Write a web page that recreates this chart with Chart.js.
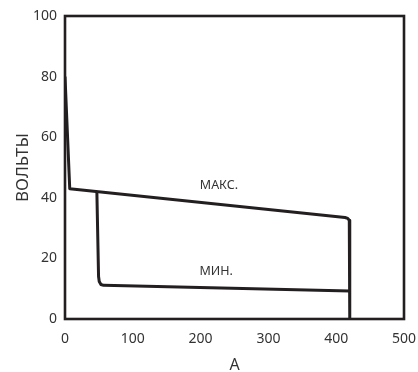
<!DOCTYPE html>
<html>
<head>
<meta charset="utf-8">
<script src="https://cdn.jsdelivr.net/npm/chart.js@4"></script>
<style>
  html, body { margin: 0; padding: 0; background: #fff; }
  #wrap { width: 418px; height: 372px; }
</style>
</head>
<body>
<div id="wrap"><canvas id="chart" width="418" height="372"></canvas></div>
<script>
"use strict";

// values (A, volts)
var maxAmps = [0, 7, 413, 417, 419.3, 420, 420];
var maxVolts = [80, 43, 33.5, 33.2, 32.6, 31.5, 0];
var minAmps = [47, 49.5, 50.5, 53, 57, 420];
var minVolts = [42, 14, 12.4, 11.4, 11.1, 9.2];

var xTicks = [0, 100, 200, 300, 400, 500];
var yTicks = [0, 20, 40, 60, 80, 100];

var labelMax = { text: "МАКС.", x: 227, y: 44.2 };
var labelMin = { text: "МИН.", x: 223, y: 15.8 };

var ink = "#231f20";
var textInk = "#333";

function toPoints(xs, ys) {
    var pts = [];
    for (var i = 0; i < xs.length; i++) {
        pts.push({ x: xs[i], y: ys[i] });
    }
    return pts;
}

/* draws the box round the plot and the two curve names */
var framePlugin = {
    id: "frame",
    afterDatasetsDraw: function(chart) {
        var ctx = chart.ctx;
        var a = chart.chartArea;
        ctx.save();
        ctx.strokeStyle = ink;
        ctx.lineWidth = 2.6;
        ctx.strokeRect(a.left, a.top, a.right - a.left, a.bottom - a.top);

        ctx.fillStyle = textInk;
        ctx.font = "12.5px 'Noto Sans'";
        ctx.textAlign = "center";
        ctx.textBaseline = "middle";
        [labelMax, labelMin].forEach(function(l) {
            ctx.fillText(l.text, chart.scales.x.getPixelForValue(l.x), chart.scales.y.getPixelForValue(l.y));
        });
        ctx.restore();
    }
};

new Chart(document.getElementById("chart"), {
    type: "scatter",
    data: {
        datasets: [{
            data: toPoints(maxAmps, maxVolts),
            showLine: true,
            borderColor: ink,
            borderWidth: 3,
            borderJoinStyle: "round",
            pointRadius: 0
        }, {
            data: toPoints(minAmps, minVolts),
            showLine: true,
            borderColor: ink,
            borderWidth: 3,
            borderJoinStyle: "round",
            pointRadius: 0
        }]
    },
    options: {
        responsive: false,
        animation: false,
        layout: {
            padding: { top: 16, right: 14, left: 0, bottom: 0 }
        },
        scales: {
            x: {
                type: "linear",
                min: 0,
                max: 500,
                afterBuildTicks: function(axis) {
                    axis.ticks = xTicks.map(function(v) { return { value: v }; });
                },
                afterFit: function(axis) {
                    axis.height = 53;
                    axis.paddingLeft = 0;
                    axis.paddingRight = 0;
                },
                grid: { display: false, drawTicks: false },
                border: { display: false },
                ticks: {
                    color: textInk,
                    padding: 12,
                    font: { family: "Noto Sans", size: 14 }
                },
                title: {
                    display: true,
                    text: "А",
                    color: textInk,
                    padding: { top: 0, bottom: -3 },
                    font: { family: "Noto Sans", size: 16 }
                }
            },
            y: {
                type: "linear",
                min: 0,
                max: 100,
                afterBuildTicks: function(axis) {
                    axis.ticks = yTicks.map(function(v) { return { value: v }; });
                },
                afterFit: function(axis) {
                    axis.width = 65;
                    axis.paddingTop = 0;
                    axis.paddingBottom = 0;
                },
                grid: { display: false, drawTicks: false },
                border: { display: false },
                ticks: {
                    color: textInk,
                    padding: 8,
                    font: { family: "Noto Sans", size: 14 }
                },
                title: {
                    display: true,
                    text: "ВОЛЬТЫ",
                    color: textInk,
                    padding: { top: 13, bottom: 0 },
                    font: { family: "Noto Sans", size: 17 }
                }
            }
        },
        plugins: {
            legend: { display: false },
            tooltip: { enabled: false }
        }
    },
    plugins: [framePlugin]
});
</script>
</body>
</html>
